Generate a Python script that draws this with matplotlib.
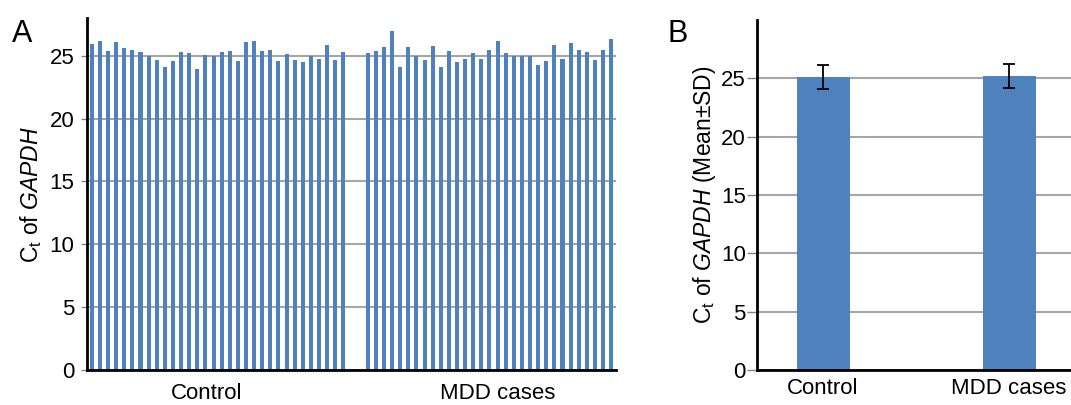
import numpy as np
import matplotlib.pyplot as plt

plt.rcParams['font.family'] = ['Liberation Sans', 'DejaVu Sans']
plt.rcParams['mathtext.fontset'] = 'custom'
plt.rcParams['mathtext.rm'] = 'Liberation Sans'
plt.rcParams['mathtext.it'] = 'Liberation Sans:italic'

# Ct of GAPDH per sample (panel A)
control_ct = [25.96, 26.17, 25.37, 26.07, 25.64, 25.43, 25.27, 24.95, 24.63, 24.10,
              24.55, 25.29, 25.20, 23.93, 25.10, 24.95, 25.32, 25.37, 24.57, 26.12,
              26.20, 25.35, 25.48, 24.55, 25.16, 24.63, 24.47, 25.00, 24.73, 25.83,
              24.68, 25.27]
mdd_ct = [25.19, 25.37, 25.72, 26.97, 24.07, 25.67, 24.95, 24.63, 25.80, 24.10,
          25.37, 24.49, 24.76, 25.19, 24.73, 25.45, 26.17, 25.24, 25.00, 24.95,
          24.95, 24.28, 24.57, 25.85, 24.73, 26.01, 25.48, 25.29, 24.63, 25.48,
          26.36]

# mean +- SD (panel B)
groups = ['Control', 'MDD cases']
group_mean = [25.14, 25.22]
group_sd = [1.03, 1.03]

bar_color = '#4f81bd'
grid_color = '#a6a6a6'
tick_fs = 16
label_fs = 16.5

fig = plt.figure(figsize=(10.71, 4.05), dpi=100)

# ---- panel A
axA = fig.add_axes([0.0812, 0.0864, 0.494, 0.869])
gap = 2
xc = np.arange(len(control_ct))
xm = np.arange(len(mdd_ct)) + len(control_ct) + gap
axA.bar(xc, control_ct, width=0.5, color=bar_color, zorder=2)
axA.bar(xm, mdd_ct, width=0.5, color=bar_color, zorder=2)
axA.set_xlim(-0.6, xm[-1] + 0.6)
axA.set_ylim(0, 28)
axA.set_yticks([0, 5, 10, 15, 20, 25])
axA.set_xticks([xc.mean() - 1.3, xm.mean() + 1.0])
axA.set_xticklabels(groups)
axA.tick_params(axis='x', length=0, labelsize=tick_fs, pad=9)
axA.tick_params(axis='y', length=4, width=1, labelsize=tick_fs, pad=5, color='#808080')
axA.yaxis.grid(True, color=grid_color, linewidth=1.5, zorder=0)
axA.set_axisbelow(True)
for s in ['top', 'right']:
    axA.spines[s].set_visible(False)
for s in ['left', 'bottom']:
    axA.spines[s].set_linewidth(2)
axA.set_ylabel(r'C$_\mathrm{t}$ of $\mathit{GAPDH}$', fontsize=label_fs, labelpad=4)
fig.text(0.011, 0.896, 'A', fontsize=22, va='baseline')

# ---- panel B
axB = fig.add_axes([0.7068, 0.0864, 0.2932, 0.864])
pos = np.arange(len(groups))
axB.bar(pos, group_mean, width=0.285, color=bar_color, zorder=2)
axB.errorbar(pos, group_mean, yerr=group_sd, fmt='none', ecolor='black',
             elinewidth=1.3, capsize=4, capthick=1.3, zorder=3)
axB.set_xlim(-0.355, 1.333)
axB.set_ylim(0, 30)
axB.set_yticks([0, 5, 10, 15, 20, 25])
axB.set_xticks(pos)
axB.set_xticklabels(groups)
axB.tick_params(axis='x', length=0, labelsize=tick_fs, pad=6)
axB.tick_params(axis='y', length=7, width=1, labelsize=tick_fs, pad=1, color='#808080')
axB.yaxis.grid(True, color=grid_color, linewidth=1.5, zorder=0)
axB.set_axisbelow(True)
for s in ['top', 'right']:
    axB.spines[s].set_visible(False)
for s in ['left', 'bottom']:
    axB.spines[s].set_linewidth(2)
axB.set_ylabel(r'C$_\mathrm{t}$ of $\mathit{GAPDH}$ (Mean±SD)', fontsize=label_fs, labelpad=2)
fig.text(0.623, 0.896, 'B', fontsize=22, va='baseline')

fig.savefig('out.png', dpi=100)
